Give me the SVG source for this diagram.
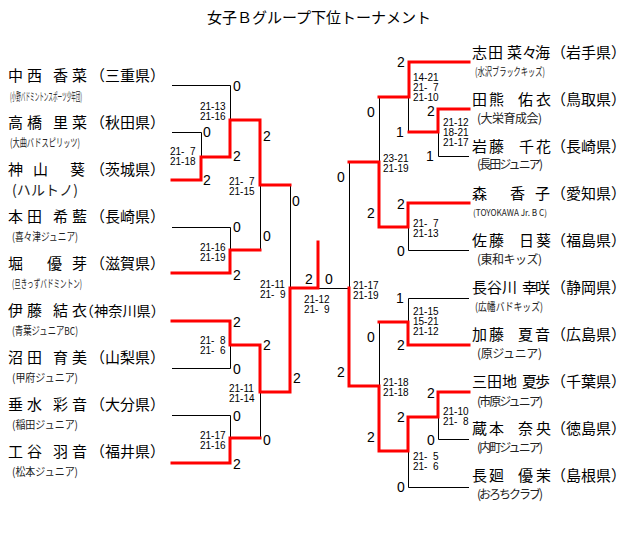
<svg xmlns="http://www.w3.org/2000/svg" width="640" height="541" viewBox="0 0 640 541">
<style>
.nm{font-family:"Noto Sans CJK JP","Noto Sans CJK SC",sans-serif;font-size:15px;fill:#000}
.pf{font-family:"Noto Sans CJK JP","Noto Sans CJK SC",sans-serif;font-size:15px;fill:#000;text-anchor:end}
.sb{font-family:"Noto Sans CJK JP","Noto Sans CJK SC",sans-serif;font-size:11px;fill:#222}
.sc{font-family:"Liberation Sans","DejaVu Sans",sans-serif;font-size:10px;fill:#000}
.g{font-family:"Liberation Sans",sans-serif;font-size:14px;fill:#000}
.k{stroke:#000;stroke-width:1;fill:none}
.r{stroke:#f00;stroke-width:3;fill:none;stroke-linecap:square;stroke-linejoin:miter}
</style>
<rect width="640" height="541" fill="#fff"/>
<text x="319" y="23" text-anchor="middle" class="nm">女子Ｂグループ下位トーナメント</text>

<g id="connectors">
<path class="k" d="M172 85.5H230.5V120M172 132.5H201.5V157M172 227.5H230.5V250M260.5 185V250M290.5 185V288M172 368.5H230.5V345M172 415.5H230.5V438M260.5 392V438M318 288.5H349.5"/>
<path class="k" d="M349.5 162V288M379.5 97V162M408.5 97V132M438.5 132V156.5H469M408.5 227V250.5H469M379.5 322V386M469 298.5H408.5V322M438.5 417V439.5H469M408.5 451V487.5H469"/>
<path class="r" d="M172 180H201V157H230V120H260V185H290"/>
<path class="r" d="M172 273H230V250H260"/>
<path class="r" d="M172 321H230V345H260V392H290V288H318V242"/>
<path class="r" d="M172 463H230V438H260"/>
<path class="r" d="M469 62H409V97H379"/>
<path class="r" d="M469 109H438V132H409"/>
<path class="r" d="M469 203H408V227H379V162H349"/>
<path class="r" d="M469 345H408V322H379"/>
<path class="r" d="M469 392H438V417H408V451H379V386H349V288"/>
</g>

<g id="L1"><text class="nm" x="8 27 53 72" y="81">中西香菜</text><text class="pf" x="165" y="81">（三重県）</text><text class="sb" x="10" y="101" textLength="72" lengthAdjust="spacingAndGlyphs">(小野バドミントンスポーツ少年団)</text></g>
<g id="L2"><text class="nm" x="8 27 53 72" y="128">高橋里菜</text><text class="pf" x="165" y="128">（秋田県）</text><text class="sb" x="10" y="147" textLength="70" lengthAdjust="spacingAndGlyphs">(大曲バドスピリッツ)</text></g>
<g id="L3"><text class="nm" x="8 33 70" y="175">神山葵</text><text class="pf" x="165" y="175">（茨城県）</text><text class="sb" x="12" y="195" style="font-size:14px" textLength="66">(ハルトノ)</text></g>
<g id="L4"><text class="nm" x="8 27 53 72" y="222">本田希藍</text><text class="pf" x="165" y="222">（長崎県）</text><text class="sb" x="12" y="241" textLength="66" lengthAdjust="spacingAndGlyphs">(喜々津ジュニア)</text></g>
<g id="L5"><text class="nm" x="8 47 72" y="269">堀優芽</text><text class="pf" x="165" y="269">（滋賀県）</text><text class="sb" x="12" y="288" textLength="70" lengthAdjust="spacingAndGlyphs">(旦きっずバドミントン)</text></g>
<g id="L6"><text class="nm" x="8 27 53 72" y="316">伊藤結衣</text><text class="pf" x="165" y="316" style="font-size:14.2px">（神奈川県）</text><text class="sb" x="12" y="335" textLength="66" lengthAdjust="spacingAndGlyphs">(青葉ジュニアBC)</text></g>
<g id="L7"><text class="nm" x="8 27 53 72" y="363">沼田育美</text><text class="pf" x="165" y="363">（山梨県）</text><text class="sb" x="12" y="382" textLength="66" lengthAdjust="spacingAndGlyphs">(甲府ジュニア)</text></g>
<g id="L8"><text class="nm" x="8 27 53 72" y="410">垂水彩音</text><text class="pf" x="165" y="410">（大分県）</text><text class="sb" x="12" y="429" textLength="66" lengthAdjust="spacingAndGlyphs">(稲田ジュニア)</text></g>
<g id="L9"><text class="nm" x="8 27 53 72" y="457">工谷羽音</text><text class="pf" x="165" y="457">（福井県）</text><text class="sb" x="12" y="476" textLength="66" lengthAdjust="spacingAndGlyphs">(松本ジュニア)</text></g>

<g id="R1"><text class="nm" x="472 488 507 522 535" y="58">志田菜々海</text><text class="pf" x="626" y="58">（岩手県）</text><text class="sb" x="475" y="76" textLength="70" lengthAdjust="spacingAndGlyphs">(水沢ブラックキッズ)</text></g>
<g id="R2"><text class="nm" x="472 489 518 536" y="105">田熊佑衣</text><text class="pf" x="626" y="105">（鳥取県）</text><text class="sb" x="477" y="123" style="font-size:12px" textLength="65">(大栄育成会)</text></g>
<g id="R3"><text class="nm" x="472 489 519 536" y="152">岩藤千花</text><text class="pf" x="626" y="152">（長崎県）</text><text class="sb" x="477" y="169" style="font-size:12px" textLength="66">(長田ジュニア)</text></g>
<g id="R4"><text class="nm" x="472 510 535" y="199">森香子</text><text class="pf" x="626" y="199">（愛知県）</text><text class="sb" x="473" y="216" style="font-size:9px" textLength="74" lengthAdjust="spacingAndGlyphs">(TOYOKAWA Jr. B C)</text></g>
<g id="R5"><text class="nm" x="472 489 519 536" y="246">佐藤日葵</text><text class="pf" x="626" y="246">（福島県）</text><text class="sb" x="477" y="264" style="font-size:12px" textLength="65">(東和キッズ)</text></g>
<g id="R6"><text class="nm" x="472 487 502 522 535" y="293">長谷川幸咲</text><text class="pf" x="626" y="293">（静岡県）</text><text class="sb" x="475" y="311" textLength="68" lengthAdjust="spacingAndGlyphs">(広幡バドキッズ)</text></g>
<g id="R7"><text class="nm" x="472 489 518 535" y="340">加藤夏音</text><text class="pf" x="626" y="340">（広島県）</text><text class="sb" x="477" y="358" style="font-size:12px" textLength="65">(原ジュニア)</text></g>
<g id="R8"><text class="nm" x="472 487 502 522 535" y="387">三田地夏歩</text><text class="pf" x="626" y="387">（千葉県）</text><text class="sb" x="477" y="406" style="font-size:12px" textLength="66">(市原ジュニア)</text></g>
<g id="R9"><text class="nm" x="472 489 518 536" y="434">蔵本奈央</text><text class="pf" x="626" y="434">（徳島県）</text><text class="sb" x="477" y="452" style="font-size:12px" textLength="66">(内町ジュニア)</text></g>
<g id="R10"><text class="nm" x="472 489 518 536" y="481">長廻優茉</text><text class="pf" x="626" y="481">（島根県）</text><text class="sb" x="477" y="499" style="font-size:12px" textLength="66">(おろちクラブ)</text></g>

<g id="games">
<text class="g" x="233" y="91">0</text><text class="g" x="203" y="137">0</text><text class="g" x="203" y="185">2</text>
<text class="g" x="233" y="161">2</text><text class="g" x="263" y="141">2</text><text class="g" x="292" y="206">0</text>
<text class="g" x="233" y="232">0</text><text class="g" x="233" y="280">2</text><text class="g" x="263" y="241">0</text>
<text class="g" x="233" y="327">2</text><text class="g" x="263" y="350">2</text><text class="g" x="233" y="374">0</text>
<text class="g" x="293" y="383">2</text><text class="g" x="233" y="421">0</text><text class="g" x="263" y="445">0</text>
<text class="g" x="233" y="469">2</text>
<text class="g" x="305" y="284">2</text><text class="g" x="325" y="284">0</text>
<text class="g" x="397" y="67">2</text><text class="g" x="427" y="116">2</text><text class="g" x="396" y="137">1</text>
<text class="g" x="426" y="161">1</text><text class="g" x="367" y="117">0</text><text class="g" x="337" y="182">0</text>
<text class="g" x="367" y="218">2</text><text class="g" x="397" y="209">2</text><text class="g" x="397" y="256">0</text>
<text class="g" x="396" y="303">1</text><text class="g" x="367" y="342">0</text><text class="g" x="397" y="350">2</text>
<text class="g" x="337" y="377">2</text><text class="g" x="427" y="398">2</text><text class="g" x="397" y="422">2</text>
<text class="g" x="427" y="445">0</text><text class="g" x="367" y="442">2</text><text class="g" x="397" y="492">0</text>
</g>

<g id="scores" class="sc">
<text x="170" y="155">21-&#8199;7</text><text x="170" y="165">21-18</text>
<text x="200" y="110">21-13</text><text x="200" y="120">21-16</text>
<text x="229" y="185">21-&#8199;7</text><text x="229" y="195">21-15</text>
<text x="200" y="251">21-16</text><text x="200" y="261">21-19</text>
<text x="260" y="288">21-11</text><text x="260" y="298">21-&#8199;9</text>
<text x="304" y="303">21-12</text><text x="304" y="313">21-&#8199;9</text>
<text x="200" y="344">21-&#8199;8</text><text x="200" y="354">21-&#8199;6</text>
<text x="229" y="392">21-11</text><text x="229" y="402">21-14</text>
<text x="200" y="439">21-17</text><text x="200" y="449">21-16</text>
<text x="413" y="81">14-21</text><text x="413" y="91">21-&#8199;7</text><text x="413" y="101">21-10</text>
<text x="443" y="126">21-12</text><text x="443" y="136">18-21</text><text x="443" y="146">21-17</text>
<text x="383" y="162">23-21</text><text x="383" y="172">21-19</text>
<text x="413" y="227">21-&#8199;7</text><text x="413" y="237">21-13</text>
<text x="353" y="289">21-17</text><text x="353" y="299">21-19</text>
<text x="413" y="315">21-15</text><text x="413" y="325">15-21</text><text x="413" y="335">21-12</text>
<text x="383" y="386">21-18</text><text x="383" y="396">21-18</text>
<text x="443" y="415">21-10</text><text x="443" y="425">21-&#8199;8</text>
<text x="413" y="460">21-&#8199;5</text><text x="413" y="470">21-&#8199;6</text>
</g>
</svg>
